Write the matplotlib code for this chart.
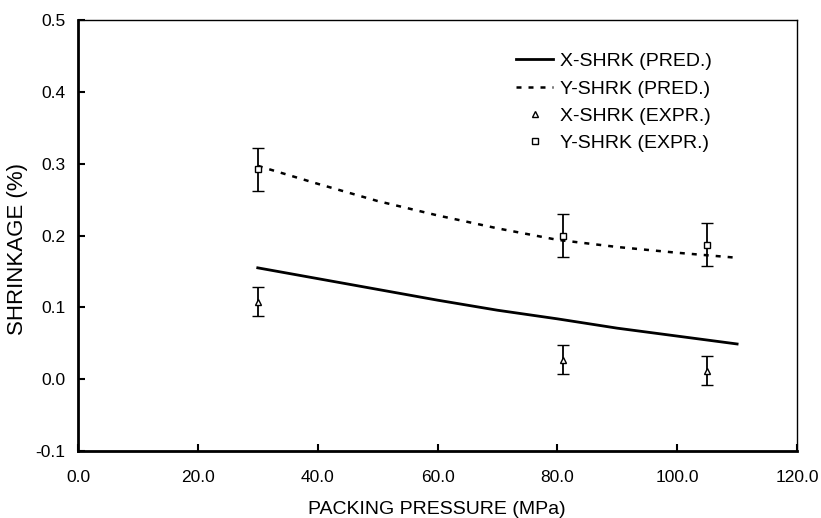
import numpy as np
import matplotlib.pyplot as plt
from matplotlib.lines import Line2D

plt.rcParams['font.family'] = ['Liberation Sans', 'DejaVu Sans']

# predicted curves
pred_x = [30, 40, 50, 60, 70, 80, 90, 100, 110]
x_pred = [0.155, 0.140, 0.125, 0.110, 0.096, 0.084, 0.071, 0.060, 0.049]
y_pred = [0.297, 0.272, 0.248, 0.228, 0.210, 0.194, 0.184, 0.176, 0.169]

# experimental points
expr_x = [30, 81, 105]
x_expr = [0.108, 0.027, 0.012]
x_err = [0.02, 0.02, 0.02]
y_expr = [0.292, 0.200, 0.187]
y_err = [0.03, 0.03, 0.03]

labels = ['X-SHRK (PRED.)', 'Y-SHRK (PRED.)', 'X-SHRK (EXPR.)', 'Y-SHRK (EXPR.)']

fig = plt.figure(figsize=(8.21, 5.18), dpi=100)
ax = fig.add_axes([0.095, 0.1293, 0.8758, 0.8321])

ax.plot(pred_x, x_pred, color='black', lw=2.0)
ax.plot(pred_x, y_pred, color='black', lw=1.8, dashes=(2, 2.8))

ax.errorbar(expr_x, x_expr, yerr=x_err, fmt='^', mfc='white', mec='black', ms=5,
            mew=1.0, ecolor='black', elinewidth=1.3, capsize=4, capthick=1.3)
ax.errorbar(expr_x, y_expr, yerr=y_err, fmt='s', mfc='white', mec='black', ms=5,
            mew=1.0, ecolor='black', elinewidth=1.3, capsize=4, capthick=1.3)

ax.set_xlim(0, 120)
ax.set_ylim(-0.1, 0.5)
ax.set_xticks(np.arange(0, 121, 20))
ax.set_yticks(np.arange(-0.1, 0.51, 0.1))
ax.set_xticklabels(['%.1f' % v for v in np.arange(0, 121, 20)])
ax.set_yticklabels(['%.1f' % v for v in np.arange(-0.1, 0.51, 0.1)])
ax.tick_params(direction='in', length=5, width=1.5, labelsize=12.5)
ax.tick_params(axis='x', pad=14)
ax.tick_params(axis='y', pad=9)

for s in ['left', 'bottom']:
    ax.spines[s].set_linewidth(2)
for s in ['top', 'right']:
    ax.spines[s].set_linewidth(1)

# axis titles
fig.text(437 / 821, 1 - 514 / 518, 'PACKING PRESSURE (MPa)', fontsize=14,
         ha='center', va='baseline')
fig.text(17.5 / 821, 1 - 249 / 518, 'SHRINKAGE (%)', fontsize=16,
         rotation=90, ha='center', va='center')

handles = [
    Line2D([], [], color='black', lw=2.0),
    Line2D([], [], color='black', lw=1.8, dashes=(2, 2.8)),
    Line2D([], [], ls='none', marker='^', mfc='white', mec='black', ms=4, mew=1.0),
    Line2D([], [], ls='none', marker='s', mfc='white', mec='black', ms=4, mew=1.0),
]
ax.legend(handles, labels, loc='upper left', bbox_to_anchor=(0.585, 0.965),
          frameon=False, fontsize=14, handlelength=1.9, handletextpad=0.35,
          labelspacing=0.5)

fig.savefig('out.png', dpi=100)
